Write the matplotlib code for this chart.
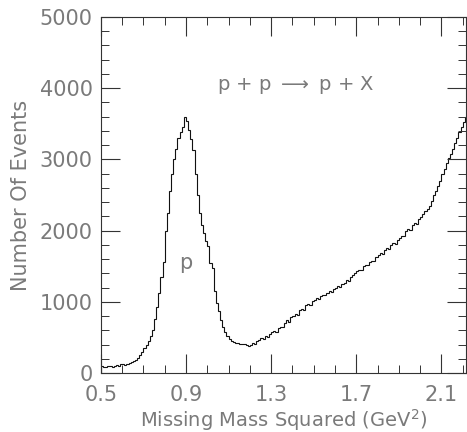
import numpy as np
import matplotlib.pyplot as plt

# histogram of missing mass squared, bin width 0.01 GeV^2
bin_start = 0.50
bin_width = 0.01
counts = [
    95, 85, 90, 95, 100, 90, 105, 110, 105, 120,
    125, 115, 130, 145, 150, 170, 185, 210, 250, 290,
    350, 400, 450, 520, 600, 760, 920, 1130, 1350, 1560,
    2000, 2250, 2550, 2800, 3000, 3150, 3300, 3380, 3460, 3600,
    3540, 3420, 3280, 3130, 2800, 2500, 2250, 2080, 1960, 1850,
    1780, 1540, 1470, 1150, 980, 870, 740, 650, 580, 520,
    480, 450, 430, 420, 415, 410, 405, 410, 395, 380,
    400, 420, 410, 450, 470, 490, 480, 520, 510, 550,
    570, 590, 580, 630, 650, 640, 700, 740, 720, 790,
    800, 830, 820, 880, 900, 890, 950, 970, 960, 1010,
    1030, 1050, 1040, 1080, 1100, 1090, 1130, 1150, 1140, 1180,
    1200, 1220, 1210, 1250, 1270, 1300, 1290, 1350, 1380, 1410,
    1430, 1450, 1440, 1500, 1520, 1510, 1560, 1580, 1570, 1630,
    1660, 1680, 1670, 1730, 1750, 1740, 1800, 1820, 1810, 1870,
    1900, 1930, 1920, 1990, 2020, 2010, 2080, 2100, 2090, 2160,
    2190, 2230, 2270, 2300, 2340, 2420, 2500, 2560, 2620, 2700,
    2800, 2870, 2950, 3020, 3080, 3150, 3230, 3300, 3380, 3450,
    3520, 3600,
]

x_ticks = [0.5, 0.9, 1.3, 1.7, 2.1]
y_ticks = [0, 1000, 2000, 3000, 4000, 5000]
reaction = "p + p $\\longrightarrow$ p + X"

edges = bin_start + bin_width * np.arange(len(counts) + 1)

text_col = "#7a7a7a"
plt.rcParams["font.family"] = "DejaVu Sans"

fig = plt.figure(figsize=(4.67, 4.32), dpi=100)
ax = fig.add_axes([0.216, 0.1366, 0.7816, 0.824])

ax.stairs(counts, edges, color="#111111", linewidth=0.8)

ax.set_xlim(0.5, 2.215)
ax.set_ylim(0, 5000)
ax.set_xticks(x_ticks)
ax.set_xticklabels([f"{v:.1f}" for v in x_ticks])
ax.set_xticks(np.arange(0.5, 2.25, 0.1), minor=True)
ax.set_yticks(y_ticks)
ax.set_yticks(np.arange(0, 5001, 200), minor=True)

ax.tick_params(which="both", direction="in", top=True, right=True,
               colors="#333333", labelcolor=text_col, labelsize=15)
ax.tick_params(which="major", length=14, width=0.8)
ax.tick_params(which="minor", length=6, width=0.7)
ax.tick_params(axis="x", which="major", pad=9)
ax.tick_params(axis="y", which="major", pad=6)
for s in ax.spines.values():
    s.set_linewidth(0.8)
    s.set_color("#333333")

ax.set_xlabel("Missing Mass Squared (GeV$^2$)", fontsize=14, color=text_col, labelpad=1)
ax.set_ylabel("Number Of Events", fontsize=15, color=text_col, labelpad=6)

ax.text(1.413, 4040, reaction, fontsize=14, color=text_col, ha="center", va="center")
ax.text(0.9, 1545, "p", fontsize=15, color=text_col, ha="center", va="center")

fig.savefig("out.png", dpi=100)
